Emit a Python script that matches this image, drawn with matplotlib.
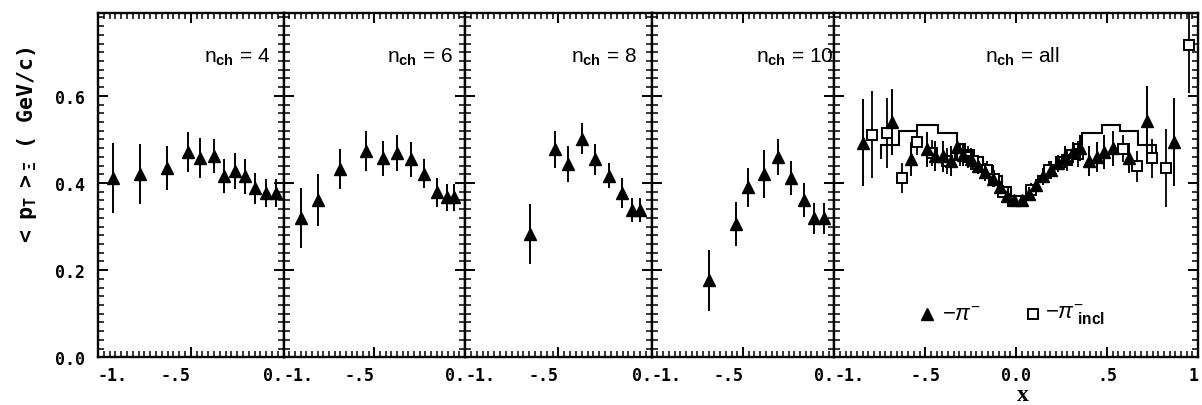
import matplotlib
matplotlib.use("Agg")
import matplotlib.pyplot as plt
from matplotlib.ticker import MultipleLocator, FixedLocator

plt.rcParams["font.family"] = ["Liberation Sans", "DejaVu Sans"]
plt.rcParams["mathtext.fontset"] = "custom"
plt.rcParams["mathtext.rm"] = "Liberation Sans"
plt.rcParams["mathtext.it"] = "Liberation Sans:italic"
plt.rcParams["mathtext.bf"] = "Liberation Sans:bold"
plt.rcParams["mathtext.tt"] = "DejaVu Sans Mono:bold"
plt.rcParams["mathtext.sf"] = "Liberation Serif:bold"

# ---- multiplicity-selected samples (pi-), x in [-1, 0] ----
n_labels = ["4", "6", "8", "10"]

x_n4 = [-0.917, -0.776, -0.629, -0.517, -0.449, -0.377, -0.319, -0.259, -0.205, -0.151, -0.097, -0.043]
pt_n4 = [0.411, 0.420, 0.434, 0.471, 0.457, 0.462, 0.416, 0.427, 0.415, 0.388, 0.377, 0.377]
err_n4 = [0.081, 0.069, 0.051, 0.045, 0.046, 0.040, 0.040, 0.041, 0.040, 0.036, 0.031, 0.031]

x_n6 = [-0.906, -0.810, -0.687, -0.543, -0.451, -0.377, -0.300, -0.227, -0.156, -0.098, -0.061]
pt_n6 = [0.319, 0.361, 0.432, 0.473, 0.457, 0.469, 0.454, 0.421, 0.379, 0.367, 0.367]
err_n6 = [0.069, 0.060, 0.045, 0.046, 0.040, 0.041, 0.040, 0.033, 0.033, 0.031, 0.031]

x_n8 = [-0.651, -0.518, -0.446, -0.373, -0.303, -0.230, -0.158, -0.106, -0.065]
pt_n8 = [0.282, 0.477, 0.444, 0.502, 0.454, 0.417, 0.377, 0.338, 0.338]
err_n8 = [0.069, 0.042, 0.041, 0.035, 0.035, 0.029, 0.035, 0.027, 0.027]

x_n10 = [-0.685, -0.540, -0.471, -0.383, -0.310, -0.237, -0.165, -0.110, -0.056]
pt_n10 = [0.177, 0.306, 0.390, 0.421, 0.459, 0.411, 0.361, 0.319, 0.319]
err_n10 = [0.070, 0.050, 0.045, 0.055, 0.041, 0.039, 0.039, 0.035, 0.035]

# ---- all multiplicities, x in [-1, 1] ----
x_all = [-0.84, -0.685, -0.58, -0.49, -0.445, -0.40, -0.36, -0.325, -0.29, -0.25, -0.21,
         -0.17, -0.13, -0.09, -0.05, -0.01, 0.03, 0.07, 0.11, 0.15, 0.19, 0.23, 0.27,
         0.31, 0.35, 0.40, 0.445, 0.485, 0.53, 0.62, 0.72, 0.87]
pt_all = [0.492, 0.540, 0.455, 0.477, 0.462, 0.461, 0.450, 0.483, 0.465, 0.455, 0.440,
          0.425, 0.410, 0.390, 0.370, 0.360, 0.360, 0.375, 0.395, 0.415, 0.430, 0.445, 0.460,
          0.470, 0.480, 0.450, 0.460, 0.471, 0.480, 0.457, 0.542, 0.494]
err_all = [0.100, 0.075, 0.040, 0.040, 0.035, 0.035, 0.035, 0.030, 0.025, 0.025, 0.020,
           0.020, 0.020, 0.015, 0.010, 0.010, 0.010, 0.015, 0.015, 0.020, 0.020, 0.020, 0.025,
           0.025, 0.030, 0.035, 0.035, 0.040, 0.040, 0.035, 0.080, 0.100]

x_incl = [-0.79, -0.71, -0.63, -0.545, -0.46, -0.38, -0.31, -0.265, -0.235, -0.16, -0.12,
          -0.07, -0.02, 0.02, 0.08, 0.18, 0.28, 0.34, 0.59, 0.665, 0.745, 0.825, 0.95]
pt_incl = [0.511, 0.515, 0.411, 0.494, 0.469, 0.450, 0.465, 0.460, 0.450, 0.430, 0.410,
           0.380, 0.358, 0.358, 0.384, 0.430, 0.453, 0.466, 0.479, 0.438, 0.457, 0.434, 0.717]
err_incl = [0.100, 0.080, 0.035, 0.030, 0.030, 0.030, 0.025, 0.025, 0.020, 0.020, 0.020,
            0.015, 0.010, 0.010, 0.015, 0.020, 0.025, 0.030, 0.030, 0.035, 0.045, 0.090, 0.110]

# reference histogram drawn as a step line
hist_edges = [-0.745, -0.744, -0.643, -0.546, -0.432, -0.324, -0.28, -0.23, -0.18, -0.13,
              -0.08, -0.03, 0.07, 0.12, 0.17, 0.22, 0.27, 0.32, 0.361, 0.471, 0.571,
              0.672, 0.769, 0.770]
hist_vals = [0.455, 0.488, 0.519, 0.533, 0.515, 0.490, 0.475, 0.460, 0.440, 0.415, 0.390,
             0.360, 0.390, 0.415, 0.440, 0.460, 0.475, 0.490, 0.515, 0.533, 0.520, 0.488,
             0.465]

ytick_vals = [0.0, 0.2, 0.4, 0.6]
ytick_text = ["0.0", "0.2", "0.4", "0.6"]
xtick_half = [-1.0, -0.5, 0.0]
xtick_half_text = ["-1.", "-.5", "0."]
xtick_full = [-1.0, -0.5, 0.0, 0.5, 1.0]
xtick_full_text = ["-1.", "-.5", "0.0", ".5", "1"]

W, H = 1202, 406
fig = plt.figure(figsize=(W / 100, H / 100), dpi=100)
edges_px = [98, 283.5, 465, 651.7, 834.3, 1198]
top_px, bot_px = 14, 358.3

tick_font = dict(family="DejaVu Sans Mono", weight="bold", size=12)


def style_axes(ax, xticks, xtext, first):
    for s in ax.spines.values():
        s.set_linewidth(1.7)
    ax.set_ylim(0, 0.79)
    ax.yaxis.set_major_locator(FixedLocator(ytick_vals))
    ax.yaxis.set_minor_locator(MultipleLocator(0.02))
    ax.xaxis.set_major_locator(FixedLocator(xticks))
    ax.xaxis.set_minor_locator(MultipleLocator(1 / 32))
    ax.tick_params(which="both", direction="in", top=True, right=True,
                   left=True, bottom=True, colors="black")
    ax.tick_params(which="major", length=7, width=1.4)
    ax.tick_params(which="minor", length=4, width=1.1)
    ax.tick_params(axis="x", pad=6)
    ax.tick_params(axis="y", pad=9)
    ax.set_xticklabels(xtext, fontdict=tick_font)
    if first:
        ax.set_yticklabels(ytick_text, fontdict=tick_font)
    else:
        ax.tick_params(axis="y", labelleft=False)


tri_kw = dict(fmt="^", color="black", ms=8, elinewidth=1.4, capsize=0)

half_sets = [(x_n4, pt_n4, err_n4), (x_n6, pt_n6, err_n6),
             (x_n8, pt_n8, err_n8), (x_n10, pt_n10, err_n10)]

for i, (xs, ys, es) in enumerate(half_sets):
    l, r = edges_px[i], edges_px[i + 1]
    ax = fig.add_axes([l / W, 1 - bot_px / H, (r - l) / W, (bot_px - top_px) / H])
    ax.errorbar(xs, ys, yerr=es, **tri_kw)
    ax.set_xlim(-1, 0)
    style_axes(ax, xtick_half, xtick_half_text, i == 0)
    labs = ax.get_xticklabels()
    labs[0].set_ha("left")
    labs[1].set_ha("right")
    labs[2].set_ha("right")
    ax.text(0.57, 0.875, r"n$_{\mathbf{ch}}$ = " + n_labels[i], transform=ax.transAxes,
            fontsize=15, ha="left", va="center")

# all-multiplicity panel
l, r = edges_px[4], edges_px[5]
ax = fig.add_axes([l / W, 1 - bot_px / H, (r - l) / W, (bot_px - top_px) / H])
ax.stairs(hist_vals, hist_edges, baseline=None, color="black", lw=1.5)
ax.errorbar(x_incl, pt_incl, yerr=err_incl, fmt="s", ms=6.5, mfc="white", mec="black",
            mew=1.4, color="black", elinewidth=1.3, capsize=0, zorder=3)
ax.errorbar(x_all, pt_all, yerr=err_all, zorder=4, **tri_kw)
ax.set_xlim(-1, 1)
style_axes(ax, xtick_full, xtick_full_text, False)
labs = ax.get_xticklabels()
labs[0].set_ha("left")
labs[-1].set_ha("right")
ax.text(0.516, 0.875, r"n$_{\mathbf{ch}}$ = all", transform=ax.transAxes,
        fontsize=15, ha="center", va="center")

# legend
ax.plot([0.254], [0.126], "^", color="black", ms=8, transform=ax.transAxes, clip_on=False)
ax.text(0.295, 0.126, r"$-\pi^{-}$", transform=ax.transAxes, fontsize=16, va="center")
ax.plot([0.546], [0.126], "s", ms=6.5, mfc="white", mec="black", mew=1.4,
        transform=ax.transAxes, clip_on=False)
ax.text(0.58, 0.126, r"$-\pi^{-}_{\ \mathbf{incl}}$", transform=ax.transAxes,
        fontsize=16, va="center")

# axis titles
fig.text(27 / W, 1 - 146 / H, r"$\mathtt{<\ p_T\ >_{\Xi}}$ ( GeV/c)", rotation=90,
         ha="center", va="center", family="DejaVu Sans Mono", weight="bold", fontsize=15.5)
fig.text(1023 / W, 1 - 405.8 / H, r"$\mathsf{x}$", ha="center", va="bottom", fontsize=17)

fig.savefig("out.png", dpi=100)
